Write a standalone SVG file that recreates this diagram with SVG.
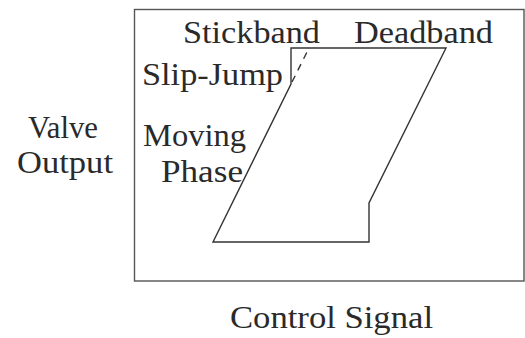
<svg xmlns="http://www.w3.org/2000/svg" width="525" height="338" viewBox="0 0 525 338">
<style>
.t{font-size:31px;fill:#2a2a2a}
.ln{fill:none;stroke:#333;stroke-width:1.4}
</style>
<rect width="525" height="338" fill="#fff"/>
<g id="frame"><rect x="134.5" y="9.5" width="389.5" height="271.5" fill="none" stroke="#555" stroke-width="1.4"/></g>
<g id="labels" font-family="Liberation Serif, DejaVu Serif, serif">
<text class="t" x="183" y="43" textLength="137" lengthAdjust="spacingAndGlyphs">Stickband</text>
<text class="t" x="354" y="43" textLength="139" lengthAdjust="spacingAndGlyphs">Deadband</text>
<text class="t" x="142" y="85" textLength="141" lengthAdjust="spacingAndGlyphs">Slip-Jump</text>
<text class="t" x="143" y="146" textLength="103" lengthAdjust="spacingAndGlyphs">Moving</text>
<text class="t" x="161" y="182" textLength="82" lengthAdjust="spacingAndGlyphs">Phase</text>
<text class="t" x="28" y="138" textLength="70" lengthAdjust="spacingAndGlyphs">Valve</text>
<text class="t" x="17" y="173" textLength="96" lengthAdjust="spacingAndGlyphs">Output</text>
<text class="t" x="230" y="328" textLength="203" lengthAdjust="spacingAndGlyphs">Control Signal</text>
</g>
<g id="connectors">
<path class="ln" d="M291,84 L291,48 L446,48 L369,203 L369,242 L213,242 Z"/>
<path class="ln" d="M292,82 L309,48" stroke-dasharray="7,6"/>
</g>
</svg>
